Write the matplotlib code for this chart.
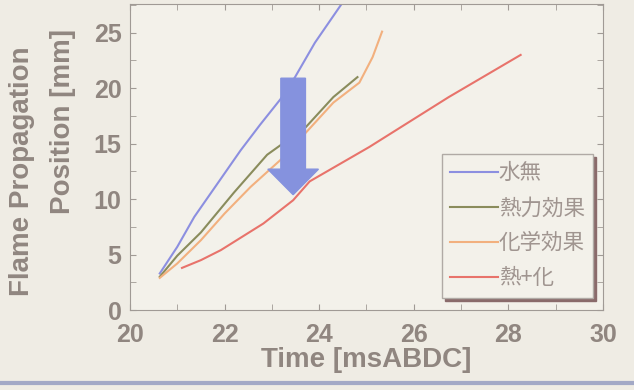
import matplotlib.pyplot as plt
from matplotlib.lines import Line2D
from matplotlib.ticker import MultipleLocator

# data
blue_t = [20.63, 21.0, 21.36, 22.34, 22.75, 23.18, 23.49, 23.91, 24.54]
blue_y = [3.3, 5.7, 8.4, 14.4, 16.7, 19.0, 21.0, 24.1, 28.0]
green_t = [20.63, 21.0, 21.5, 22.2, 22.9, 23.72, 24.3, 24.81]
green_y = [3.0, 4.9, 7.0, 10.6, 14.0, 16.5, 19.2, 21.0]
orange_t = [20.63, 21.0, 21.5, 22.0, 22.55, 23.2, 23.72, 24.3, 24.85, 25.13, 25.33]
orange_y = [2.9, 4.2, 6.3, 8.7, 11.1, 13.6, 16.0, 18.7, 20.5, 22.8, 25.1]
red_t = [21.1, 21.5, 21.92, 22.82, 23.45, 23.8, 25.06, 26.74, 28.26]
red_y = [3.8, 4.5, 5.4, 7.8, 9.9, 11.6, 14.7, 19.2, 23.0]
labels = ['水無', '熱力効果', '化学効果', '熱+化']
colors = ['#8c8fe0', '#8a8c5c', '#f2b07e', '#e8736b']

# arrow (x, top, tip)
arrow_x, arrow_top, arrow_tip = 23.45, 20.9, 10.4

bg = '#efece4'
txt = '#908680'

plt.rcParams['font.family'] = ['Liberation Sans', 'DejaVu Sans']
fig = plt.figure(figsize=(6.34, 3.9), dpi=100, facecolor=bg)
ax = fig.add_axes([0.205, 0.205, 0.746, 0.785], facecolor='#f3f1ea')

for t, y, c, lab in zip([blue_t, green_t, orange_t, red_t],
                        [blue_y, green_y, orange_y, red_y], colors, labels):
    ax.plot(t, y, color=c, lw=1.5, label=lab)

ax.arrow(arrow_x, arrow_top, 0, arrow_tip - arrow_top, width=0.52,
         head_width=1.07, head_length=2.3, length_includes_head=True,
         color='#8592de', zorder=5)

ax.set_xlim(20, 30)
ax.set_ylim(0, 27.6)
ax.xaxis.set_major_locator(MultipleLocator(2))
ax.xaxis.set_minor_locator(MultipleLocator(1))
ax.yaxis.set_major_locator(MultipleLocator(5))
ax.yaxis.set_minor_locator(MultipleLocator(2.5))
ax.tick_params(which='both', direction='in', top=True, right=True,
               length=4, color='#a09a95', labelcolor=txt, labelsize=18)
ax.tick_params(axis='x', pad=9)
ax.tick_params(axis='y', pad=6)
for lab in ax.get_xticklabels() + ax.get_yticklabels():
    lab.set_fontweight('bold')
for s in ax.spines.values():
    s.set_color('#a09a95')

ax.set_xlabel('Time [msABDC]', fontsize=20, fontweight='bold', color=txt, labelpad=0)
fig.text(0.035, 0.24, 'Flame Propagation', rotation=90, fontsize=20,
         fontweight='bold', color=txt, ha='center', va='bottom')
fig.text(0.1, 0.45, 'Position [mm]', rotation=90, fontsize=20,
         fontweight='bold', color=txt, ha='center', va='bottom')

leg = ax.legend(loc='lower right', bbox_to_anchor=(0.98, 0.04), borderaxespad=0,
                fancybox=False, shadow={'color': '#8a6b6b', 'alpha': 1},
                prop={'family': ['Noto Sans CJK JP', 'DejaVu Sans'], 'size': 15.5},
                handlelength=2.2, handletextpad=0.05, labelspacing=0.6,
                borderpad=0.4, framealpha=1, facecolor='#f3f1ea', edgecolor='#b0aaa5')
for t in leg.get_texts():
    t.set_color('#a09590')

# slide rule line at the bottom
fig.add_artist(Line2D([0, 1], [0.018, 0.018], color='#a3a9c6', lw=3))

fig.savefig('out.png', dpi=100, facecolor=bg)
